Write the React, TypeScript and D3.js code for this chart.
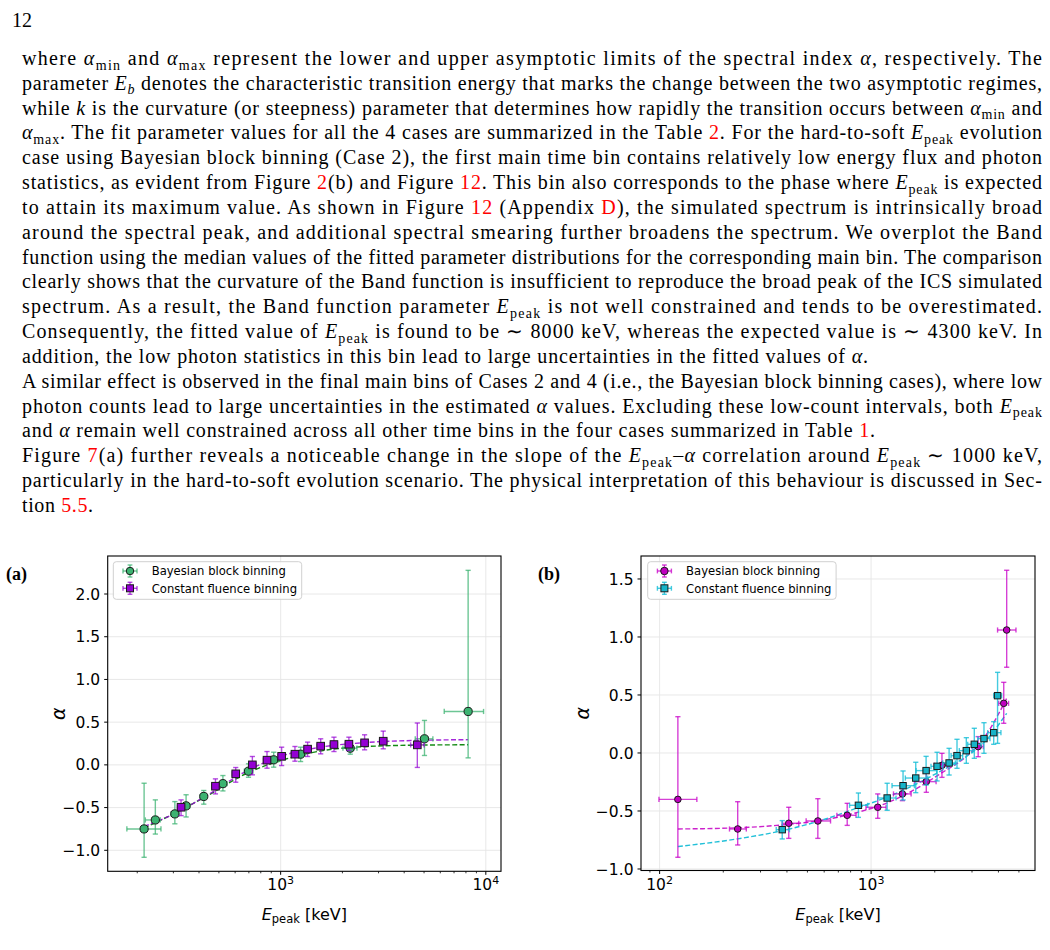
import React from "react";
import * as d3 from "d3";

// ---------- page text (segments: [text, kind]) kind: "" normal, i italic, s subscript, si italic subscript, r red
type Seg = [string, string?];
const pageLines: Seg[][] = [
  [["where "], ["α", "i"], ["min", "s"], [" and "], ["α", "i"], ["max", "s"], [" represent the lower and upper asymptotic limits of the spectral index "], ["α", "i"], [", respectively. The"]],
  [["parameter "], ["E", "i"], ["b", "si"], [" denotes the characteristic transition energy that marks the change between the two asymptotic regimes,"]],
  [["while "], ["k", "i"], [" is the curvature (or steepness) parameter that determines how rapidly the transition occurs between "], ["α", "i"], ["min", "s"], [" and"]],
  [["α", "i"], ["max", "s"], [". The fit parameter values for all the 4 cases are summarized in the Table "], ["2", "r"], [". For the hard-to-soft "], ["E", "i"], ["peak", "s"], [" evolution"]],
  [["case using Bayesian block binning (Case 2), the first main time bin contains relatively low energy flux and photon"]],
  [["statistics, as evident from Figure "], ["2", "r"], ["(b) and Figure "], ["12", "r"], [". This bin also corresponds to the phase where "], ["E", "i"], ["peak", "s"], [" is expected"]],
  [["to attain its maximum value. As shown in Figure "], ["12", "r"], [" (Appendix "], ["D", "r"], ["), the simulated spectrum is intrinsically broad"]],
  [["around the spectral peak, and additional spectral smearing further broadens the spectrum. We overplot the Band"]],
  [["function using the median values of the fitted parameter distributions for the corresponding main bin. The comparison"]],
  [["clearly shows that the curvature of the Band function is insufficient to reproduce the broad peak of the ICS simulated"]],
  [["spectrum. As a result, the Band function parameter "], ["E", "i"], ["peak", "s"], [" is not well constrained and tends to be overestimated."]],
  [["Consequently, the fitted value of "], ["E", "i"], ["peak", "s"], [" is found to be ∼ 8000 keV, whereas the expected value is ∼ 4300 keV. In"]],
  [["addition, the low photon statistics in this bin lead to large uncertainties in the fitted values of "], ["α", "i"], ["."]],
  [["A similar effect is observed in the final main bins of Cases 2 and 4 (i.e., the Bayesian block binning cases), where low"]],
  [["photon counts lead to large uncertainties in the estimated "], ["α", "i"], [" values. Excluding these low-count intervals, both "], ["E", "i"], ["peak", "s"]],
  [["and "], ["α", "i"], [" remain well constrained across all other time bins in the four cases summarized in Table "], ["1", "r"], ["."]],
  [["Figure "], ["7", "r"], ["(a) further reveals a noticeable change in the slope of the "], ["E", "i"], ["peak", "s"], ["–"], ["α", "i"], [" correlation around "], ["E", "i"], ["peak", "s"], [" ∼ 1000 keV,"]],
  [["particularly in the hard-to-soft evolution scenario. The physical interpretation of this behaviour is discussed in Sec-"]],
  [["tion "], ["5.5", "r"], ["."]],
];
const lineWidths = [1020, 1020, 1020, 1020, 1020, 1020, 1020, 1020, 1020, 1020, 1020, 1020, 846, 1020, 1020, 853, 1020, 1020, 71];

// ---------- panel (a): Bayesian block binning (green circles)
const aBbE = [216, 245, 305, 346, 422, 523, 697, 925, 1251, 2183, 5024, 8200];
const aBbAlpha = [-0.75, -0.645, -0.574, -0.48, -0.37, -0.22, -0.074, 0.059, 0.125, 0.195, 0.305, 0.625];
const aBbELo = [178, 219, 292, 330, 406, 505, 665, 874, 1178, 2012, 4530, 6270];
const aBbEHi = [261, 259, 320, 361, 437, 548, 733, 978, 1318, 2355, 5520, 9750];
const aBbALo = [-1.082, -0.81, -0.69, -0.61, -0.46, -0.305, -0.145, -0.027, 0.039, 0.125, 0.11, 0.082];
const aBbAHi = [-0.215, -0.41, -0.43, -0.35, -0.3, -0.125, 0.012, 0.148, 0.207, 0.254, 0.52, 2.277];

// panel (a): constant fluence binning (purple squares)
const aCfE = [327, 481, 604, 728, 858, 1011, 1174, 1353, 1567, 1819, 2151, 2565, 3162, 4636];
const aCfAlpha = [-0.496, -0.25, -0.105, 0.0, 0.055, 0.1, 0.125, 0.184, 0.219, 0.238, 0.242, 0.258, 0.277, 0.234];
const aCfELo = [314, 462, 580, 699, 824, 971, 1127, 1299, 1504, 1746, 2065, 2462, 3036, 4300];
const aCfEHi = [340, 500, 628, 757, 892, 1051, 1221, 1407, 1630, 1892, 2237, 2668, 3288, 5000];
const aCfALo = [-0.594, -0.34, -0.203, -0.117, -0.039, -0.008, 0.043, 0.098, 0.129, 0.156, 0.168, 0.176, 0.188, -0.03];
const aCfAHi = [-0.41, -0.164, -0.031, 0.098, 0.156, 0.207, 0.215, 0.266, 0.305, 0.324, 0.324, 0.352, 0.395, 0.49];

// panel (a) fitted curves
const aFitE = [216, 305, 422, 697, 1000, 1502, 2633, 5024, 8200];
const aFitBb = [-0.74, -0.565, -0.385, -0.09, 0.05, 0.155, 0.215, 0.232, 0.235];
const aFitCf = [-0.72, -0.57, -0.38, -0.06, 0.1, 0.2, 0.262, 0.288, 0.295];

// ---------- panel (b): Bayesian block binning (magenta circles)
const bBbE = [122, 234, 408, 560, 771, 1075, 1406, 1824, 2163, 3208, 4238, 4376];
const bBbAlpha = [-0.4, -0.655, -0.606, -0.586, -0.537, -0.468, -0.353, -0.247, -0.106, 0.055, 0.428, 1.06];
const bBbELo = [99.3, 214, 380, 493, 689, 946, 1276, 1603, 1991, 2999, 4010, 3963];
const bBbEHi = [150, 257, 455, 643, 849, 1177, 1546, 2029, 2300, 3395, 4467, 4842];
const bBbALo = [-0.899, -0.793, -0.736, -0.736, -0.624, -0.563, -0.411, -0.339, -0.21, -0.032, 0.256, 0.739];
const bBbAHi = [0.313, -0.42, -0.468, -0.394, -0.434, -0.353, -0.305, -0.161, -0.003, 0.141, 0.609, 1.575];

// panel (b): constant fluence binning (cyan squares)
const bCfE = [380, 871, 1191, 1416, 1626, 1820, 2051, 2338, 2548, 2820, 3076, 3418, 3800, 3963];
const bCfAlpha = [-0.661, -0.451, -0.388, -0.282, -0.216, -0.152, -0.115, -0.086, -0.023, 0.02, 0.075, 0.124, 0.175, 0.494];
const bCfELo = [356, 791, 1075, 1256, 1452, 1632, 1919, 2183, 2389, 2613, 2863, 3194, 3558, 3800];
const bCfEHi = [411, 964, 1312, 1603, 1853, 2042, 2183, 2502, 2711, 3020, 3311, 3648, 4111, 4140];
const bCfALo = [-0.741, -0.555, -0.494, -0.405, -0.342, -0.276, -0.241, -0.19, -0.132, -0.089, -0.046, -0.003, 0.075, 0.083];
const bCfAHi = [-0.583, -0.345, -0.261, -0.155, -0.08, -0.029, 0.006, 0.04, 0.118, 0.132, 0.213, 0.261, 0.27, 0.695];

// panel (b) fitted curves
const bFitE = [122, 234, 380, 560, 871, 1191, 1626, 2163, 2820, 3418, 4376];
const bFitBb = [-0.655, -0.645, -0.62, -0.585, -0.51, -0.43, -0.31, -0.17, -0.03, 0.13, 0.47];
const bFitCf = [-0.807, -0.74, -0.67, -0.59, -0.47, -0.38, -0.27, -0.15, -0.03, 0.09, 0.342];

const aYTicks = [-1, -0.5, 0, 0.5, 1, 1.5, 2];
const bYTicks = [-1, -0.5, 0, 0.5, 1, 1.5];
const aXMajor = [1000, 10000];
const bXMajor = [100, 1000];
const legendLabels = ["Bayesian block binning", "Constant fluence binning"];

const SANS = "'DejaVu Sans', sans-serif";
const SERIF = "'Liberation Serif', 'Times New Roman', serif";

type Series = {
  e: number[]; a: number[]; eLo: number[]; eHi: number[]; aLo: number[]; aHi: number[];
  shape: "circle" | "square"; fill: string; bar: string; size: number;
};

function Marker({ cx, cy, s }: { cx: number; cy: number; s: Series }) {
  if (s.shape === "circle")
    return <circle cx={cx} cy={cy} r={s.size / 2} fill={s.fill} stroke="#1a1a1a" strokeWidth={1} />;
  return <rect x={cx - s.size / 2} y={cy - s.size / 2} width={s.size} height={s.size} fill={s.fill} stroke="#1a1a1a" strokeWidth={1} />;
}

function ErrBar({ x, y, x1, x2, y1, y2, color, cap }: any) {
  return (
    <g stroke={color} strokeWidth={1.4} fill="none">
      <line x1={x1} x2={x2} y1={y} y2={y} />
      <line x1={x1} x2={x1} y1={y - cap} y2={y + cap} />
      <line x1={x2} x2={x2} y1={y - cap} y2={y + cap} />
      <line x1={x} x2={x} y1={y1} y2={y2} />
      <line x1={x - cap} x2={x + cap} y1={y1} y2={y1} />
      <line x1={x - cap} x2={x + cap} y1={y2} y2={y2} />
    </g>
  );
}

function Panel(props: {
  l: number; r: number; t: number; b: number;
  xDom: [number, number]; yDom: [number, number];
  yTicks: number[]; xMajor: number[];
  tag: string; tagX: number; alphaX: number; legX: number;
  s1: Series; s2: Series;
  fitE: number[]; fit1: number[]; fit2: number[]; fitC1: string; fitC2: string;
}) {
  const { l, r, t, b, s1, s2 } = props;
  const x = d3.scaleLog().domain(props.xDom).range([l, r]);
  const y = d3.scaleLinear().domain(props.yDom).range([b, t]);
  const minor = x.ticks().filter((v) => Math.abs(Math.log10(v) - Math.round(Math.log10(v))) > 1e-6);
  const line = d3.line<number>().x((_, i) => x(props.fitE[i])).y((d) => y(d)).curve(d3.curveMonotoneX);
  const cap = 2.6;
  const fmt = (v: number) => (v < 0 ? "−" : "") + Math.abs(v).toFixed(1);

  const drawSeries = (s: Series) => (
    <g>
      {s.e.map((e, i) => (
        <ErrBar key={"e" + i} x={x(e)} y={y(s.a[i])} x1={x(s.eLo[i])} x2={x(s.eHi[i])} y1={y(s.aLo[i])} y2={y(s.aHi[i])} color={s.bar} cap={cap} />
      ))}
      {s.e.map((e, i) => <Marker key={"m" + i} cx={x(e)} cy={y(s.a[i])} s={s} />)}
    </g>
  );

  const legY = 561.7;
  return (
    <g>
      <defs>
        <clipPath id={"clip" + props.tag}>
          <rect x={l} y={t} width={r - l} height={b - t} />
        </clipPath>
      </defs>
      {/* grid */}
      <g stroke="#e5e5e5" strokeWidth={0.9}>
        {props.yTicks.map((v) => <line key={v} x1={l} x2={r} y1={y(v)} y2={y(v)} />)}
        {props.xMajor.map((v) => <line key={v} x1={x(v)} x2={x(v)} y1={t} y2={b} />)}
      </g>
      <g clipPath={`url(#clip${props.tag})`}>
        <path d={line(props.fit1) || ""} fill="none" stroke={props.fitC1} strokeWidth={1.4} strokeDasharray="5,2.4" />
        <path d={line(props.fit2) || ""} fill="none" stroke={props.fitC2} strokeWidth={1.4} strokeDasharray="5,2.4" />
        {drawSeries(s1)}
        {drawSeries(s2)}
      </g>
      {/* frame */}
      <rect x={l} y={t} width={r - l} height={b - t} fill="none" stroke="#000" strokeWidth={1.1} />
      {/* y ticks */}
      {props.yTicks.map((v) => (
        <g key={v}>
          <line x1={l - 3.5} x2={l} y1={y(v)} y2={y(v)} stroke="#000" strokeWidth={1} />
          <text x={l - 7.5} y={y(v) + 5.6} textAnchor="end" fontFamily={SANS} fontSize={15.5}>{fmt(v)}</text>
        </g>
      ))}
      {/* x ticks */}
      {minor.map((v) => <line key={v} x1={x(v)} x2={x(v)} y1={b} y2={b + 2} stroke="#000" strokeWidth={0.8} />)}
      {props.xMajor.map((v) => (
        <g key={v}>
          <line x1={x(v)} x2={x(v)} y1={b} y2={b + 3.5} stroke="#000" strokeWidth={1} />
          <text x={x(v)} y={890} textAnchor="middle" fontFamily={SANS} fontSize={15.5}>
            10<tspan dy={-6.5} fontSize={11}>{Math.round(Math.log10(v))}</tspan>
          </text>
        </g>
      ))}
      {/* axis labels */}
      <text x={(l + r) / 2} y={920} textAnchor="middle" fontFamily={SANS} fontSize={16}>
        <tspan fontStyle="italic">E</tspan>
        <tspan dy={3} fontSize={11.5}>peak</tspan>
        <tspan dy={-3}> [keV]</tspan>
      </text>
      <text transform={`translate(${props.alphaX},${(t + b) / 2}) rotate(-90)`} textAnchor="middle" fontFamily={SANS} fontSize={19} fontStyle="italic">α</text>
      <text x={props.tagX} y={580} fontFamily={SERIF} fontWeight="bold" fontSize={18}>{props.tag}</text>
      {/* legend */}
      <rect x={props.legX} y={legY} width={188.4} height={37.6} rx={3} fill="#fff" fillOpacity={0.85} stroke="#d0d0d0" strokeWidth={1} />
      {[s1, s2].map((s, i) => {
        const cy = legY + 9.3 + i * 17.3;
        const cx = props.legX + 16.7;
        return (
          <g key={i}>
            <ErrBar x={cx} y={cy} x1={cx - 7} x2={cx + 7} y1={cy - 6} y2={cy + 6} color={s.bar} cap={2.4} />
            <Marker cx={cx} cy={cy} s={{ ...s, size: s.shape === "circle" ? 7.5 : 7 }} />
            <text x={props.legX + 38.4} y={cy + 4.2} fontFamily={SANS} fontSize={11.6}>{legendLabels[i]}</text>
          </g>
        );
      })}
    </g>
  );
}

function renderSegs(segs: Seg[]) {
  let shifted = false;
  return segs.map(([txt, kind = ""], i) => {
    const sub = kind === "s" || kind === "si";
    let dy = 0;
    if (sub && !shifted) { dy = 4.5; shifted = true; }
    else if (!sub && shifted) { dy = -4.5; shifted = false; }
    return (
      <tspan
        key={i}
        dy={dy || undefined}
        fontSize={sub ? 14 : undefined}
        fontStyle={kind === "i" || kind === "si" ? "italic" : undefined}
        fill={kind === "r" ? "#ff0000" : undefined}
      >{txt}</tspan>
    );
  });
}

export default function App() {
  const seriesA1: Series = { e: aBbE, a: aBbAlpha, eLo: aBbELo, eHi: aBbEHi, aLo: aBbALo, aHi: aBbAHi, shape: "circle", fill: "#3cb371", bar: "rgba(60,179,113,0.75)", size: 8.2 };
  const seriesA2: Series = { e: aCfE, a: aCfAlpha, eLo: aCfELo, eHi: aCfEHi, aLo: aCfALo, aHi: aCfAHi, shape: "square", fill: "#9400d3", bar: "rgba(148,0,211,0.7)", size: 7.6 };
  const seriesB1: Series = { e: bBbE, a: bBbAlpha, eLo: bBbELo, eHi: bBbEHi, aLo: bBbALo, aHi: bBbAHi, shape: "circle", fill: "#bf00bf", bar: "rgba(200,0,200,0.75)", size: 6.6 };
  const seriesB2: Series = { e: bCfE, a: bCfAlpha, eLo: bCfELo, eHi: bCfEHi, aLo: bCfALo, aHi: bCfAHi, shape: "square", fill: "#17b3c8", bar: "rgba(23,190,215,0.8)", size: 6.4 };

  return (
    <svg width={1050} height={950} style={{ position: "absolute", left: 0, top: 0, background: "#fff" }}>
      <text x={12} y={27} fontFamily={SERIF} fontSize={20}>12</text>
      <g fontFamily={SERIF} fontSize={20}>
        {pageLines.map((segs, i) => (
          <text key={i} x={22} y={65 + i * 24.83} textLength={lineWidths[i]} lengthAdjust="spacing">
            {renderSegs(segs)}
          </text>
        ))}
      </g>
      <Panel
        l={107.7} r={501} t={556} b={871.3}
        xDom={[Math.pow(10, 2.157), Math.pow(10, 4.074)]} yDom={[-1.246, 2.445]}
        yTicks={aYTicks} xMajor={aXMajor}
        tag="(a)" tagX={6} alphaX={65} legX={113.3}
        s1={seriesA1} s2={seriesA2}
        fitE={aFitE} fit1={aFitBb} fit2={aFitCf} fitC1="#138a13" fitC2="rgba(148,0,211,0.85)"
      />
      <Panel
        l={641} r={1035} t={556} b={870.5}
        xDom={[Math.pow(10, 1.912), Math.pow(10, 3.775)]} yDom={[-1.013, 1.698]}
        yTicks={bYTicks} xMajor={bXMajor}
        tag="(b)" tagX={538} alphaX={589} legX={647.7}
        s1={seriesB1} s2={seriesB2}
        fitE={bFitE} fit1={bFitBb} fit2={bFitCf} fitC1="#cc22cc" fitC2="#22c0d8"
      />
    </svg>
  );
}
